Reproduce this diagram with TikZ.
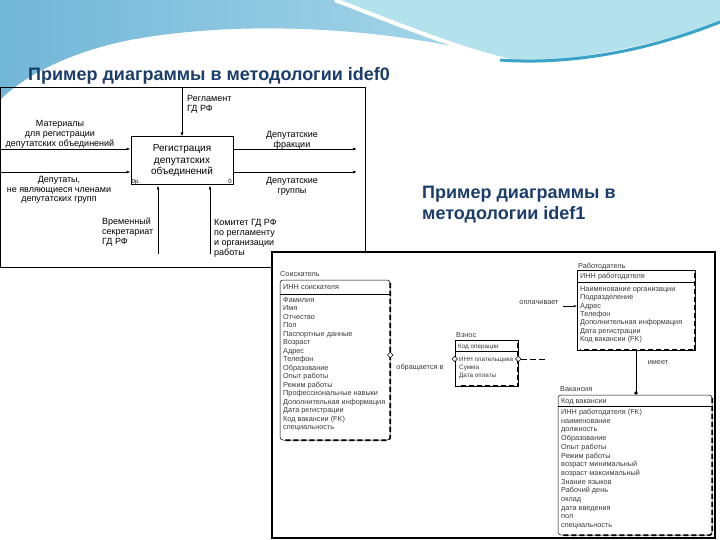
\documentclass[tikz,border=0pt]{standalone}
\usepackage{fontspec}
\setmainfont{Liberation Sans}
\usepackage{tikz}
\usetikzlibrary{arrows.meta, shapes.geometric, calc}

\definecolor{ttlblue}{HTML}{1B3D6B}
\definecolor{bgleft}{HTML}{72B6D8}
\definecolor{bgright}{HTML}{A9D9EA}
\definecolor{bgcyan}{HTML}{B4E2EC}
\definecolor{swoosh}{HTML}{3AA3C8}
\definecolor{txtgray}{HTML}{3A3A3A}

\begin{document}
\begin{tikzpicture}[x=1pt, y=-1pt,
    lbl/.style={font=\fontsize{9}{9.8}\selectfont, align=center, inner sep=0pt},
    lbll/.style={font=\fontsize{9}{10}\selectfont, align=left, inner sep=0pt, anchor=north west},
    arr/.style={-{Latex[length=4pt,width=3pt]}, line width=0.8pt},
    ebox/.style={draw, line width=0.5pt, inner sep=0pt},
    shdw/.style={line width=1.6pt, dash pattern=on 5pt off 3pt},
    attr/.style={font=\fontsize{7.3}{8.5}\selectfont, anchor=base west, inner sep=0pt, text=txtgray},
    sattr/.style={attr, font=\fontsize{6.3}{8}\selectfont},
    odia/.style={draw, diamond, inner sep=1.4pt, fill=white, line width=0.5pt},
  ]
\useasboundingbox (0,0) rectangle (720,540);
\fill[white] (0,0) rectangle (720,540);

% background
\shade[left color=bgleft, right color=bgright] (0,0) -- (335,0)
  .. controls (400,25) and (460,50) .. (515,62)
  .. controls (420,32) and (260,16) .. (130,40)
  .. controls (70,52) and (25,75) .. (0,100) -- cycle;
\fill[bgcyan] (335,0) -- (720,0) -- (720,22)
  .. controls (640,50) and (560,62) .. (515,62)
  .. controls (460,50) and (400,25) .. (335,0) -- cycle;
\draw[white, line width=4pt] (335,0) .. controls (400,25) and (460,50) .. (515,62);
\draw[swoosh, line width=3pt] (500,60) .. controls (580,66) and (660,46) .. (720,22);

% titles
\node[anchor=base west, inner sep=0pt, font=\fontsize{18}{22}\selectfont\bfseries, text=ttlblue]
  (title0) at (28,81) {Пример диаграммы в методологии idef0};
\node[anchor=base west, inner sep=0pt, font=\fontsize{18}{21}\selectfont\bfseries, text=ttlblue, align=left]
  (title1) at (422,220) {Пример диаграммы в\\методологии idef1};

% idef0
\draw[line width=0.8pt] (0.5,87) rectangle (365,267);
\node[draw, line width=1pt, minimum width=102, minimum height=48, align=center,
  font=\fontsize{10}{11.5}\selectfont] (reg) at (182,161) {Регистрация\\депутатских\\объединений};
\node[anchor=south west, inner sep=1pt, font=\fontsize{6}{7}\selectfont] (cost) at (reg.south west) {0р.};
\node[anchor=south east, inner sep=1.5pt, font=\fontsize{6}{7}\selectfont] (num) at (reg.south east) {0};

\coordinate (ctl) at (182,88);
\coordinate (in1) at (1,149);
\coordinate (in2) at (1,172);
\coordinate (out1) at (357,149);
\coordinate (out2) at (357,172);
\coordinate (mec1) at (158,254);
\coordinate (mec2) at (210,254);

\draw[arr] (ctl) -- (reg.north);
\draw[arr] (in1) -- (in1 -| reg.west);
\draw[arr] (in2) -- (in2 -| reg.west);
\draw[arr] (out1 -| reg.east) -- (out1);
\draw[arr] (out2 -| reg.east) -- (out2);
\draw[arr] (mec1) -- (mec1 |- reg.south);
\draw[arr] (mec2) -- (mec2 |- reg.south);

\node[lbll] (ctl-l) at (187,95) {Регламент\\ГД РФ};
\node[lbl] (in1-l) at (60,134.5) {Материалы\\для регистрации\\депутатских объединений};
\node[lbl] (in2-l) at (59,190) {Депутаты,\\не являющиеся членами\\депутатских групп};
\node[lbl] (out1-l) at (292,140) {Депутатские\\фракции};
\node[lbl] (out2-l) at (292,186) {Депутатские\\группы};
\node[lbll] (mec1-l) at (102,218) {Временный\\секретариат\\ГД РФ};
\node[lbll] (mec2-l) at (214,219) {Комитет ГД РФ\\по регламенту\\и организации\\работы};

% idef1
\draw[line width=1.5pt, fill=white] (272,252) rectangle (715,538);

% Соискатель
\node[ebox, rounded corners=3pt, minimum width=110, minimum height=160] (sois) at (335,360) {};
\draw[shdw, rounded corners=3pt] ([yshift=-3pt]sois.north east) -- (sois.south east) -- ([xshift=3pt]sois.south west);
\draw[line width=0.5pt] (280,294) -- (390,294);
\node[attr] (sois-t) at (280,276) {Соискатель};
\node[attr] (sois-k) at (283,289) {ИНН соискателя};
\foreach \t [count=\i from 0] in {Фамилия, Имя, Отчество, Пол, Паспортные данные, Возраст, Адрес,
    Телефон, Образование, Опыт работы, Режим работы, Профессиональные навыки,
    Дополнительная информация, Дата регистрации, Код вакансии (FK), специальность}
  \node[attr] (sois-a\i) at (283,{302.5+8.47*\i}) {\t};

% Взнос
\node[ebox, minimum width=63, minimum height=46] (vzn) at (486.5,363) {};
\draw[shdw] ([yshift=-3pt]vzn.north east) -- (vzn.south east) -- ([xshift=3pt]vzn.south west);
\draw[line width=0.5pt] (455,351) -- (518,351);
\node[attr] (vzn-t) at (456,337) {Взнос};
\node[sattr] (vzn-k) at (458,348) {Код операции};
\foreach \t [count=\i from 0] in {ИНН плательщика, Сумма, Дата оплаты}
  \node[sattr] (vzn-a\i) at (459,{361.5+8*\i}) {\t};

% Работодатель
\node[ebox, minimum width=118, minimum height=80] (rab) at (636,310) {};
\draw[shdw] ([yshift=-3pt]rab.north east) -- (rab.south east) -- ([xshift=3pt]rab.south west);
\draw[line width=0.5pt] (577,282) -- (695,282);
\node[attr] (rab-t) at (578,268) {Работодатель};
\node[attr] (rab-k) at (580,278) {ИНН работодателя};
\foreach \t [count=\i from 0] in {Наименование организации, Подразделение, Адрес, Телефон,
    Дополнительная информация, Дата регистрации, Код вакансии (FK)}
  \node[attr] (rab-a\i) at (580,{291.5+8.3*\i}) {\t};

% Вакансия
\node[ebox, rounded corners=3pt, minimum width=154, minimum height=140] (vac) at (635,465) {};
\draw[shdw, rounded corners=3pt] ([yshift=-3pt]vac.north east) -- (vac.south east) -- ([xshift=3pt]vac.south west);
\draw[line width=0.5pt] (558,406) -- (712,406);
\node[attr] (vac-t) at (560,391) {Вакансия};
\node[attr] (vac-k) at (561,403) {Код вакансии};
\foreach \t [count=\i from 0] in {ИНН работодателя (FK), наименование, должность, Образование,
    Опыт работы, Режим работы, возраст минимальный, возраст максимальный, Знание языков,
    Рабочий день, оклад, дата введения, пол, специальность}
  \node[attr] (vac-a\i) at (561,{414.5+8.7*\i}) {\t};

% relationships
\node[odia] (dia1) at (sois.east |- 0,355) {};
\node[odia] (dia2) at (vzn.west |- 0,359) {};
\node[attr, anchor=center] (obr) at (420,368) {обращается в};

\node[odia] (dia3) at (vzn.east |- 0,359) {};
\coordinate (vzn-r) at (546,359);
\draw[line width=0.5pt, dash pattern=on 6pt off 3pt] (dia3) -- (vzn-r);

\node[attr, anchor=center] (opl) at (539,303) {оплачивает};
\coordinate (opl-r) at (563,306);
\draw[-{Stealth[length=3pt]}, line width=0.5pt] (opl-r) -- (opl-r -| rab.west);

\draw[-{Circle[length=3.5pt]}, line width=0.5pt] (rab.south) -- (rab.south |- vac.north);
\node[attr, anchor=center] (ime) at (658,363) {имеет};

\end{tikzpicture}
\end{document}
